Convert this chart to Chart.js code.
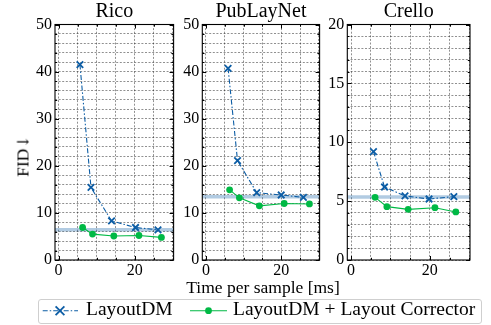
<!DOCTYPE html>
<html>
<head>
<meta charset="utf-8">
<script src="https://cdn.jsdelivr.net/npm/chart.js@4.4.1/dist/chart.umd.min.js"></script>
<style>
  html, body { margin: 0; padding: 0; background: #fff; }
  body { width: 491px; height: 325px; position: relative; overflow: hidden; font-family: 'Liberation Serif', serif; color: #000; }
  canvas { position: absolute; top: 0; }
  .txt { position: absolute; white-space: nowrap; }
</style>
</head>
<body>
<canvas id="c1" width="180" height="285" style="left:0px"></canvas>
<canvas id="c2" width="146" height="285" style="left:180px"></canvas>
<canvas id="c3" width="165" height="285" style="left:326px"></canvas>

<div class="txt" id="ylab" style="left:23px;top:156px;font-size:17.5px;line-height:18px;transform:translate(-50%,-50%) rotate(-90deg);">FID<span style="font-family:'DejaVu Serif',serif;font-size:16px;">↓</span></div>
<div class="txt" id="xlab" style="left:263px;top:277px;font-size:17.5px;line-height:20px;transform:translateX(-50%);">Time per sample [ms]</div>

<div style="position:absolute;left:37.5px;top:299px;width:444px;height:25px;border:1px solid #cfcfcf;border-radius:3px;box-sizing:border-box;"></div>
<svg style="position:absolute;left:0;top:0" width="491" height="325">
  <line x1="42.7" y1="310.7" x2="78" y2="310.7" stroke="#0C5DA5" stroke-width="1.1" stroke-dasharray="5,2,1.5,2"/>
  <line x1="55.6" y1="306.3" x2="64.4" y2="315.1" stroke="#0C5DA5" stroke-width="1.8"/>
  <line x1="55.6" y1="315.1" x2="64.4" y2="306.3" stroke="#0C5DA5" stroke-width="1.8"/>
  <line x1="190" y1="310.7" x2="227" y2="310.7" stroke="#00B945" stroke-width="1.1"/>
  <circle cx="208.5" cy="310.7" r="3.4" fill="#00B945"/>
</svg>
<div class="txt" style="left:86px;top:299px;font-size:19.5px;line-height:19px;">LayoutDM</div>
<div class="txt" style="left:233px;top:299px;font-size:19.5px;line-height:19px;">LayoutDM + Layout Corrector</div>

<script>
// ---- data ----
const panelTitles = ['Rico', 'PubLayNet', 'Crello'];
const legendLabels = ['LayoutDM', 'LayoutDM + Layout Corrector'];

const ricoTimeDM = [5.6, 8.5, 13.9, 20.2, 26.1];
const ricoFidDM  = [41.5, 15.4, 8.3, 6.9, 6.4];
const ricoTimeLC = [6.3, 8.9, 14.5, 21.1, 27.0];
const ricoFidLC  = [6.9, 5.5, 5.1, 5.2, 4.8];
const ricoRef    = 6.4;

const pubTimeDM = [5.9, 8.4, 13.5, 20.0, 25.9];
const pubFidDM  = [40.7, 21.1, 14.3, 13.8, 13.3];
const pubTimeLC = [6.3, 8.9, 14.2, 20.8, 27.5];
const pubFidLC  = [14.9, 13.2, 11.5, 12.0, 11.9];
const pubRef    = 13.45;

const creTimeDM = [5.7, 8.5, 13.7, 19.8, 26.1];
const creFidDM  = [9.2, 6.2, 5.44, 5.18, 5.38];
const creTimeLC = [6.1, 9.1, 14.5, 21.3, 26.6];
const creFidLC  = [5.32, 4.53, 4.30, 4.44, 4.08];
const creRef    = 5.35;

const xMin = -0.95, xMax = 30.2;
const xTickStep = 5, xLabelStep = 20;
const yMaxes = [50, 50, 20];
const yTickSteps = [2, 2, 1];
const yLabelSteps = [10, 10, 5];

// ---- styling ----
const BLUE = '#0C5DA5', GREEN = '#00B945', BAND = 'rgba(12,93,165,0.32)';
Chart.defaults.font.family = "'Liberation Serif', serif";
Chart.defaults.color = '#000';

const zip = (xs, ys) => xs.map((x, i) => ({x, y: ys[i]}));

const framePlugin = {
  id: 'frameTicks',
  afterDraw(chart, args, opts) {
    const {ctx, chartArea: a, scales} = chart;
    ctx.save();
    ctx.strokeStyle = '#000';
    ctx.lineWidth = 1;
    ctx.beginPath();
    scales.y.ticks.forEach(t => {
      const p = Math.round(scales.y.getPixelForValue(t.value)) + 0.5;
      const len = (Math.abs(t.value % opts.yLabel) < 1e-9) ? 4 : 2.2;
      ctx.moveTo(a.left, p); ctx.lineTo(a.left + len, p);
      ctx.moveTo(a.right, p); ctx.lineTo(a.right - len, p);
    });
    scales.x.ticks.forEach(t => {
      const p = Math.round(scales.x.getPixelForValue(t.value)) + 0.5;
      const len = (Math.abs(t.value % xLabelStep) < 1e-9) ? 4 : 2.2;
      ctx.moveTo(p, a.bottom); ctx.lineTo(p, a.bottom - len);
      ctx.moveTo(p, a.top); ctx.lineTo(p, a.top + len);
    });
    ctx.stroke();
    ctx.lineWidth = 1.1;
    ctx.strokeRect(a.left, a.top, a.right - a.left, a.bottom - a.top);
    ctx.restore();
  }
};

function makePanel(id, idx, tDM, fDM, tLC, fLC, ref, yAxisWidth, padRight) {
  const yLabel = yLabelSteps[idx];
  new Chart(document.getElementById(id), {
    type: 'line',
    data: {
      datasets: [
        {
          label: 'ref',
          data: [{x: xMin, y: ref}, {x: xMax, y: ref}],
          borderColor: BAND, borderWidth: 3.5, pointRadius: 0, order: 3
        },
        {
          label: legendLabels[1],
          data: zip(tLC, fLC),
          borderColor: GREEN, backgroundColor: GREEN, borderWidth: 1.1,
          pointStyle: 'circle', pointRadius: 3.4, pointBorderWidth: 0, order: 2
        },
        {
          label: legendLabels[0],
          data: zip(tDM, fDM),
          borderColor: BLUE, backgroundColor: BLUE, borderWidth: 1.1,
          borderDash: [5, 2, 1.5, 2],
          pointStyle: 'crossRot', pointRadius: 4.6, pointBorderWidth: 1.8, order: 1
        }
      ]
    },
    options: {
      responsive: false,
      animation: false,
      devicePixelRatio: 1,
      layout: { padding: { left: 0, right: padRight, top: 0, bottom: 0 } },
      plugins: {
        legend: { display: false },
        tooltip: { enabled: false },
        title: {
          display: true, text: panelTitles[idx], fullSize: false,
          font: { size: 20, weight: 'normal', lineHeight: 1 },
          padding: { top: 2, bottom: 2.5 }, color: '#000'
        },
        frameTicks: { yLabel }
      },
      scales: {
        x: {
          type: 'linear', min: xMin, max: xMax,
          afterFit(s) { s.height = 25; },
          ticks: {
            stepSize: xTickStep, includeBounds: false, autoSkip: false, maxRotation: 0,
            padding: 1.5, font: { size: 16 },
            callback: v => (Math.abs(v % xLabelStep) < 1e-9 ? String(v) : '')
          },
          grid: { color: 'rgba(0,0,0,0.55)', lineWidth: 0.8, drawTicks: false },
          border: { display: false, dash: [2, 1.6] }
        },
        y: {
          type: 'linear', min: 0, max: yMaxes[idx],
          afterFit(s) { s.width = yAxisWidth; },
          ticks: {
            stepSize: yTickSteps[idx], autoSkip: false, padding: 3, font: { size: 16 },
            callback: v => (Math.abs(v % yLabel) < 1e-9 ? String(v) : '')
          },
          grid: { color: 'rgba(0,0,0,0.55)', lineWidth: 0.8, drawTicks: false },
          border: { display: false, dash: [2, 1.6] }
        }
      }
    },
    plugins: [framePlugin]
  });
}

makePanel('c1', 0, ricoTimeDM, ricoFidDM, ricoTimeLC, ricoFidLC, ricoRef, 55, 2.3);
makePanel('c2', 1, pubTimeDM, pubFidDM, pubTimeLC, pubFidLC, pubRef, 22.3, 2);
makePanel('c3', 2, creTimeDM, creFidDM, creTimeLC, creFidLC, creRef, 21.3, 21);
</script>
</body>
</html>
